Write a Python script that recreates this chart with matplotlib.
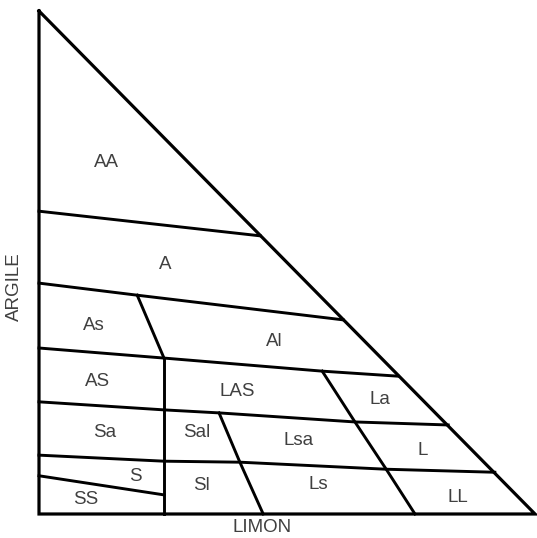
import numpy as np
import matplotlib.pyplot as plt

# limites des classes (limon %, argile %)
tri_limon = [0, 0, 100, 0]
tri_argile = [100, 0, 0, 100]

bornes = {
    "AA_A": ([0, 44.6], [60.2, 55.3]),
    "A_As": ([0, 19.8, 61.3], [45.9, 43.5, 38.6]),
    "As_AS": ([0, 25.2, 57.1, 72.4], [33.0, 31.0, 28.4, 27.4]),
    "AS_Sa": ([0, 25.2, 36.3, 63.7, 82.5], [22.3, 20.7, 20.1, 18.3, 17.7]),
    "Sa_S": ([0, 25.2, 40.5, 70.0, 91.9], [11.7, 10.5, 10.3, 8.9, 8.3]),
    "S_SS": ([0, 25.2], [7.6, 3.8]),
    "As_Al": ([19.8, 25.2], [43.5, 31.0]),
    "vert": ([25.2, 25.2], [31.0, 0]),
    "Sal_Lsa": ([36.3, 40.5, 45.2], [20.1, 10.3, 0]),
    "LAS_La": ([57.1, 63.7, 70.0, 75.8], [28.4, 18.3, 8.9, 0]),
}

classes = ["AA", "A", "As", "Al", "AS", "LAS", "La", "Sa", "Sal", "Lsa",
           "L", "S", "SS", "Sl", "Ls", "LL"]
cl_limon = [13.7, 25.4, 11.1, 47.4, 11.7, 39.9, 68.8, 13.3, 31.9, 52.4,
            77.4, 19.4, 9.5, 32.7, 56.3, 84.5]
cl_argile = [69.8, 49.7, 37.4, 34.2, 26.4, 24.3, 22.7, 16.3, 16.3, 14.7,
             12.7, 7.4, 2.8, 5.6, 5.8, 3.2]

plt.rcParams['font.family'] = ['Liberation Sans', 'DejaVu Sans']

fig = plt.figure(figsize=(5.37, 5.38), dpi=100)
ax = fig.add_axes([39/537, 24/538, 496/537, 503/538])

ax.plot(tri_limon, tri_argile, color='black', lw=2.3, solid_joinstyle='miter',
        clip_on=False)
for k, (xs, ys) in bornes.items():
    ax.plot(xs, ys, color='black', lw=2.1, clip_on=False)

for nom, x, y in zip(classes, cl_limon, cl_argile):
    ax.text(x, y, nom, ha='center', va='center', fontsize=13.5, color='#404040')

ax.set_xlim(0, 100)
ax.set_ylim(0, 100)
ax.axis('off')

fig.text(262/537, 1 - 528/538, "LIMON", ha='center', va='center',
         fontsize=13.5, color='#404040')
fig.text(14/537, 1 - 287/538, "ARGILE", ha='center', va='center',
         rotation=90, fontsize=13.5, color='#404040')

fig.savefig("out.png", dpi=100)
